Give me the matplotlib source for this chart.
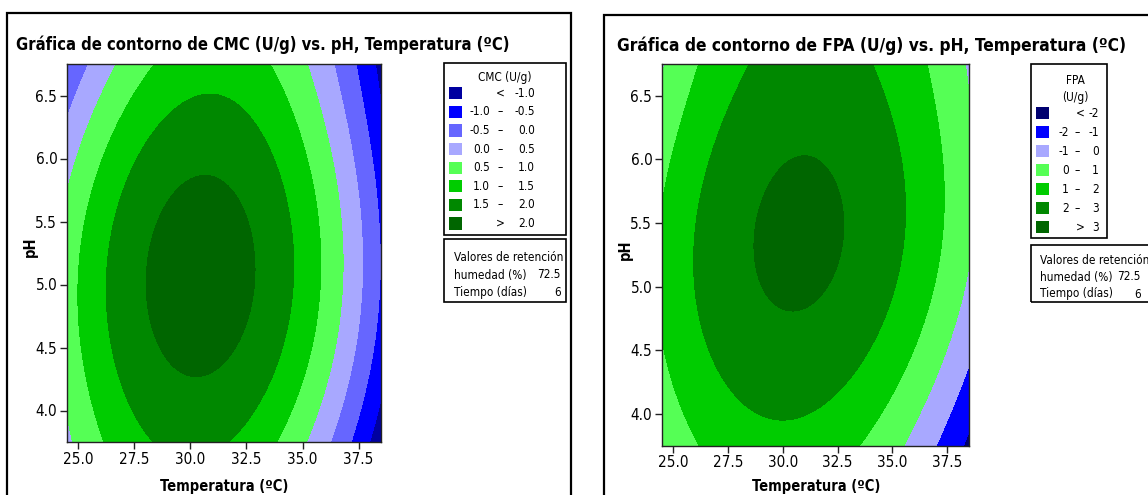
import numpy as np
import matplotlib
matplotlib.use("Agg")
import matplotlib.pyplot as plt
from matplotlib.patches import Rectangle

W, H = 1148, 495
FAM = ['DejaVu Sans Condensed', 'Liberation Sans Narrow', 'DejaVu Sans']
plt.rcParams['font.family'] = FAM
plt.rcParams['font.stretch'] = 'condensed'

# ejes
temp_lim = (24.5, 38.5)
ph_lim = (3.75, 6.75)
temp_ticks = [25.0, 27.5, 30.0, 32.5, 35.0, 37.5]
ph_ticks = [4.0, 4.5, 5.0, 5.5, 6.0, 6.5]

# CMC: contour boundaries, (temperatura, pH)
cmc_levels = [-1.0, -0.5, 0.0, 0.5, 1.0, 1.5, 2.0]
cmc_colors = ['#0000A0', '#0000FF', '#6666FF', '#A8A8FF', '#55FF55', '#00CC00', '#008800', '#006600']
cmc_2_0 = [(30.65, 5.876), (29.32, 5.776), (28.87, 5.656), (28.42, 5.445), (28.16, 5.233),
           (28.07, 4.968), (28.27, 4.703), (28.72, 4.491), (29.32, 4.346), (30.06, 4.274),
           (30.95, 4.346), (31.69, 4.491), (32.29, 4.730), (32.58, 4.968), (32.84, 5.127),
           (32.73, 5.339), (32.44, 5.604), (31.99, 5.762), (31.25, 5.868)]
cmc_1_5 = [(30.65, 6.509), (29.61, 6.438), (28.72, 6.292), (27.83, 6.027), (26.94, 5.709),
           (26.49, 5.365), (26.27, 4.968), (26.42, 4.571), (26.64, 4.242), (27.01, 4.083),
           (27.68, 3.925), (28.50, 3.766), (31.92, 3.766), (32.51, 3.925), (33.25, 4.083),
           (33.63, 4.242), (34.20, 4.440), (34.64, 4.915), (34.67, 5.233), (34.37, 5.630),
           (33.92, 5.948), (33.18, 6.265), (32.29, 6.424), (31.54, 6.490)]
cmc_1_0 = [(28.57, 6.75), (27.53, 6.53), (26.64, 6.239), (25.75, 5.815), (25.15, 5.365),
           (25.01, 4.968), (25.08, 4.571), (25.30, 4.242), (25.82, 3.925), (26.19, 3.766),
           (34.07, 3.766), (34.44, 3.925), (34.81, 4.242), (35.78, 4.836), (35.85, 5.233),
           (35.56, 5.709), (34.96, 6.133), (34.22, 6.53), (33.33, 6.75)]
cmc_0_5 = [(24.50, 5.67), (24.50, 3.95), (24.78, 3.766), (24.86, 6.027), (25.75, 6.424),
           (26.71, 6.75), (35.26, 6.75), (35.85, 6.16), (36.45, 5.709), (36.78, 5.233),
           (36.67, 4.703), (36.08, 4.242), (35.63, 3.925), (35.26, 3.766)]
cmc_0_0 = [(24.50, 6.31), (25.45, 6.75), (36.45, 6.75), (37.04, 6.29), (37.49, 5.76),
           (37.79, 5.233), (37.71, 4.70), (36.97, 4.242), (36.52, 3.925), (36.15, 3.766)]
cmc_m0_5 = [(37.41, 6.75), (37.94, 6.16), (38.31, 5.63), (38.46, 5.233), (38.31, 4.70),
            (37.86, 4.242), (37.49, 3.925), (37.12, 3.766)]
cmc_m1_0 = [(38.50, 4.20), (38.38, 3.925), (38.09, 3.766)]
cmc_bounds = [cmc_m1_0, cmc_m0_5, cmc_0_0, cmc_0_5, cmc_1_0, cmc_1_5, cmc_2_0]

# FPA
fpa_levels = [-2, -1, 0, 1, 2, 3]
fpa_colors = ['#000070', '#0000FF', '#A8A8FF', '#55FF55', '#00CC00', '#008800', '#006600']
fpa_3 = [(31.09, 6.100), (30.48, 6.061), (29.88, 5.956), (29.34, 5.825), (28.96, 5.642),
         (28.84, 5.537), (28.84, 5.353), (29.04, 5.144), (29.50, 4.987), (29.88, 4.908),
         (30.48, 4.869), (31.09, 4.921), (31.70, 5.039), (32.23, 5.196), (32.53, 5.301),
         (32.68, 5.458), (32.68, 5.668), (32.46, 5.825), (31.85, 6.035), (31.55, 6.074)]
fpa_2 = [(28.66, 6.75), (27.45, 6.454), (26.69, 6.140), (26.16, 5.773), (25.93, 5.380),
         (25.93, 5.118), (26.23, 4.725), (26.69, 4.463), (27.07, 4.267), (27.83, 4.109),
         (28.74, 4.005), (29.95, 3.952), (31.17, 4.005), (32.23, 4.109), (33.29, 4.267),
         (33.82, 4.384), (34.58, 4.646), (35.19, 4.987), (35.49, 5.301), (35.57, 5.563),
         (35.42, 5.904), (34.89, 6.297), (34.28, 6.664), (34.13, 6.75)]
fpa_1 = [(26.23, 6.75), (25.78, 6.349), (25.02, 5.956), (24.50, 5.70), (24.50, 4.54),
         (25.02, 4.267), (25.32, 4.109), (26.23, 3.755), (33.44, 3.755), (34.66, 4.109),
         (35.34, 4.267), (36.70, 4.725), (37.24, 5.118), (37.32, 5.511), (37.24, 5.904),
         (37.01, 6.297), (36.56, 6.75)]
fpa_0 = [(24.50, 6.72), (24.60, 6.75), (38.30, 6.75), (38.50, 6.64), (38.50, 5.25),
         (37.85, 4.725), (36.86, 4.267), (36.33, 4.109), (35.57, 3.755)]
fpa_m1 = [(38.50, 4.384), (38.23, 4.267), (37.77, 4.109), (37.01, 3.755)]
fpa_m2 = [(38.50, 3.886), (38.38, 3.755)]
fpa_bounds = [fpa_m2, fpa_m1, fpa_0, fpa_1, fpa_2, fpa_3]

hold_labels = ["Valores de retención", "humedad (%)", "Tiempo (días)"]
hold_values = ["", "72.5", "6"]


def px(x, y):
    return x / W, 1 - y / H


def basis(T, P, deg=4):
    u = (T - 31.5) / 7.0
    v = (P - 5.25) / 1.5
    cols = []
    for n in range(deg + 1):
        for k in range(n + 1):
            cols.append(u ** (n - k) * v ** k)
    return np.stack(cols, axis=-1)


def surface(bounds, levels):
    T, P, Z = [], [], []
    for lev, pts in zip(levels, bounds):
        for t, p in pts:
            T.append(t); P.append(p); Z.append(lev)
    A = basis(np.array(T), np.array(P))
    coef = np.linalg.lstsq(A, np.array(Z, float), rcond=None)[0]
    tt = np.linspace(*temp_lim, 300)
    pp = np.linspace(*ph_lim, 300)
    TT, PP = np.meshgrid(tt, pp)
    return TT, PP, basis(TT, PP) @ coef


fig = plt.figure(figsize=(W / 100, H / 100), dpi=100)


def panel(rect, bounds, levels, colors):
    ax = fig.add_axes(rect)
    TT, PP, Z = surface(bounds, levels)
    ax.contourf(TT, PP, Z, levels=[-1e9] + list(levels) + [1e9], colors=colors)
    ax.set_xlim(temp_lim)
    ax.set_ylim(ph_lim)
    ax.set_xticks(temp_ticks)
    ax.set_xticklabels(["%.1f" % t for t in temp_ticks])
    ax.set_yticks(ph_ticks)
    ax.set_yticklabels(["%.1f" % t for t in ph_ticks])
    ax.tick_params(direction='out', length=5, width=1, labelsize=11, color='#222222', pad=2)
    for s in ax.spines.values():
        s.set_color('#222222')
        s.set_linewidth(1)
    return ax


def frame(x0, y0, x1, y1, lw=1.6):
    a, b = px(x0, y1)
    c, d = px(x1, y0)
    fig.add_artist(Rectangle((a, b), c - a, d - b, transform=fig.transFigure,
                             fill=False, ec='black', lw=lw, clip_on=False))


def swatch(x0, yc, color):
    a, b = px(x0, yc + 6)
    fig.add_artist(Rectangle((a, b), 13 / W, 12 / H, transform=fig.transFigure,
                             fc=color, ec='none'))


def txt(x, y, s, **kw):
    kw.setdefault('va', 'center')
    kw.setdefault('fontsize', 8.5)
    fig.text(*px(x, y), s, **kw)


# ---------- panel CMC ----------
frame(7, 13, 571, 520)
panel([67 / W, 1 - 442 / H, 314 / W, 378 / H], cmc_bounds, cmc_levels, cmc_colors)
txt(16, 45, "Gráfica de contorno de CMC (U/g) vs. pH, Temperatura (ºC)", fontsize=11.9, fontweight='bold', ha='left')
txt(224, 487, "Temperatura (ºC)", fontsize=10.5, fontweight='bold', ha='center')
txt(30, 247, "pH", fontsize=10.5, fontweight='bold', ha='center', rotation=90)

frame(444, 63, 566, 235, lw=1.2)
txt(505, 78, "CMC (U/g)", ha='center')
for i, col in enumerate(cmc_colors):
    yc = 93.3 + i * 18.6
    swatch(449, yc, col)
    if i == 0:
        txt(500, yc, "<", ha='center'); txt(535, yc, "%.1f" % cmc_levels[0], ha='right')
    elif i == len(cmc_colors) - 1:
        txt(500, yc, ">", ha='center'); txt(535, yc, "%.1f" % cmc_levels[-1], ha='right')
    else:
        txt(490, yc, "%.1f" % cmc_levels[i - 1], ha='right')
        txt(500, yc, "–", ha='center')
        txt(535, yc, "%.1f" % cmc_levels[i], ha='right')

frame(444, 239, 566, 302, lw=1.2)
for j, (lab, val) in enumerate(zip(hold_labels, hold_values)):
    yc = 257.7 + j * 17.3
    txt(454, yc, lab, ha='left')
    if val:
        txt(561, yc, val, ha='right')

# ---------- panel FPA ----------
frame(604, 15, 1170, 520)
panel([662 / W, 1 - 445.7 / H, 307.3 / W, 381.7 / H], fpa_bounds, fpa_levels, fpa_colors)
txt(617, 46, "Gráfica de contorno de FPA (U/g) vs. pH, Temperatura (ºC)", fontsize=12.4, fontweight='bold', ha='left')
txt(816, 487, "Temperatura (ºC)", fontsize=10.5, fontweight='bold', ha='center')
txt(625, 250, "pH", fontsize=10.5, fontweight='bold', ha='center', rotation=90)

frame(1031, 64, 1107, 238, lw=1.2)
txt(1075, 80, "FPA", ha='center')
txt(1075, 98, "(U/g)", ha='center')
for i, col in enumerate(fpa_colors):
    yc = 113.3 + i * 19.0
    swatch(1036, yc, col)
    if i == 0:
        txt(1080, yc, "<", ha='center'); txt(1099, yc, "%d" % fpa_levels[0], ha='right')
    elif i == len(fpa_colors) - 1:
        txt(1080, yc, ">", ha='center'); txt(1099, yc, "%d" % fpa_levels[-1], ha='right')
    else:
        txt(1069, yc, "%d" % fpa_levels[i - 1], ha='right')
        txt(1077, yc, "–", ha='center')
        txt(1099, yc, "%d" % fpa_levels[i], ha='right')

frame(1031, 245, 1170, 302, lw=1.2)
for j, (lab, val) in enumerate(zip(hold_labels, hold_values)):
    yc = 260 + j * 17
    txt(1040, yc, lab, ha='left')
    if val:
        txt(1141, yc, val, ha='right')

fig.savefig("out.png", dpi=100)
